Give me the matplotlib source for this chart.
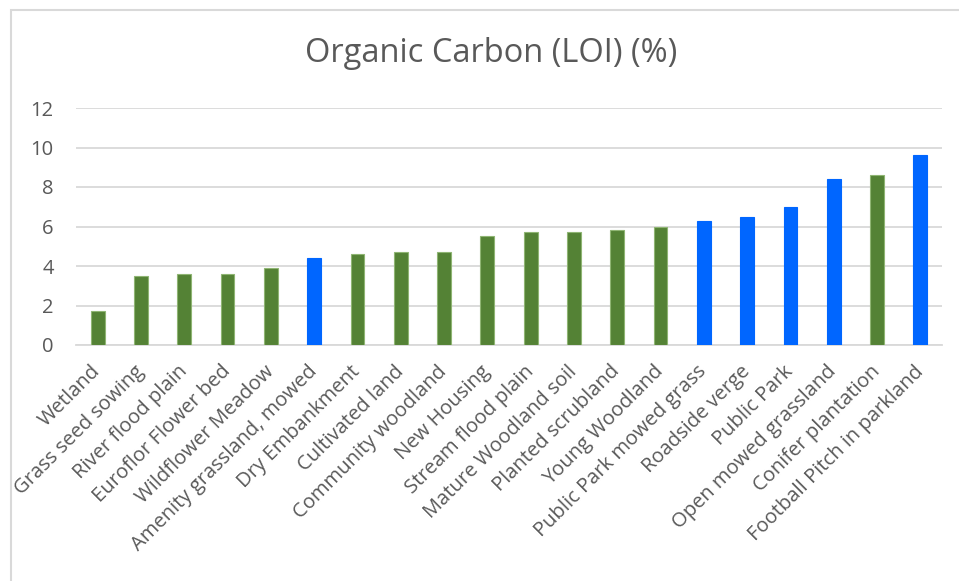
import matplotlib
matplotlib.use("Agg")
import matplotlib.pyplot as plt
from matplotlib.patches import Rectangle

categories = ["Wetland", "Grass seed sowing", "River flood plain", "Euroflor Flower bed",
              "Wildflower Meadow", "Amenity grassland, mowed", "Dry Embankment",
              "Cultivated land", "Community woodland", "New Housing", "Stream flood plain",
              "Mature Woodland soil", "Planted scrubland", "Young Woodland",
              "Public Park mowed grass", "Roadside verge", "Public Park",
              "Open mowed grassland", "Conifer plantation", "Football Pitch in parkland"]
values = [1.7, 3.5, 3.6, 3.6, 3.9, 4.4, 4.6, 4.7, 4.7, 5.5, 5.7, 5.7, 5.8, 6.0,
          6.3, 6.5, 7.0, 8.4, 8.6, 9.6]
groups = ["g", "g", "g", "g", "g", "b", "g", "g", "g", "g", "g", "g", "g", "g",
          "b", "b", "b", "b", "g", "b"]
yticks = [0, 2, 4, 6, 8, 10, 12]

GREEN = "#548235"
BLUE = "#0066FF"
TXT = "#595959"

plt.rcParams['font.family'] = ['Open Sans', 'DejaVu Sans']

fig = plt.figure(figsize=(9.59, 5.81), dpi=100)
W, H = 959, 581
ax = fig.add_axes([76 / W, 1 - 345 / H, (942 - 76) / W, (345 - 108) / H])

colors = [GREEN if g == "g" else BLUE for g in groups]
edges = ["#8FB573" if g == "g" else BLUE for g in groups]
x = list(range(len(categories)))
ax.bar(x, values, width=0.32, color=colors, edgecolor=edges, linewidth=0.8, zorder=3)

ax.set_xlim(-0.5, len(categories) - 0.5)
ax.set_ylim(0, 12)
ax.set_yticks(yticks)
ax.set_yticklabels([str(t) for t in yticks], fontsize=14.5, color=TXT)
ax.yaxis.grid(True, color="#D9D9D9", linewidth=1.3, zorder=0)
ax.set_axisbelow(True)
for s in ["left", "right", "top"]:
    ax.spines[s].set_visible(False)
ax.spines["bottom"].set_color("#D9D9D9")
ax.spines["bottom"].set_linewidth(1.3)
ax.tick_params(axis="both", length=0)
ax.tick_params(axis="y", pad=16)
ax.tick_params(axis="x", pad=17)
ax.set_xticks(x)
ax.set_xticklabels(categories, rotation=45, ha="right", va="center",
                   rotation_mode="anchor", fontsize=14.5, color=TXT)

fig.text(491 / W, 1 - 54 / H, "Organic Carbon (LOI) (%)", ha="center", va="center",
         fontsize=23.5, color=TXT)

fig.patches.append(Rectangle((10.5 / W, -0.1), 1.2, (1 - 9.5 / H) + 0.1,
                             transform=fig.transFigure, fill=False,
                             edgecolor="#D9D9D9", linewidth=1.5))

fig.savefig("out.png", dpi=100, facecolor="white")
